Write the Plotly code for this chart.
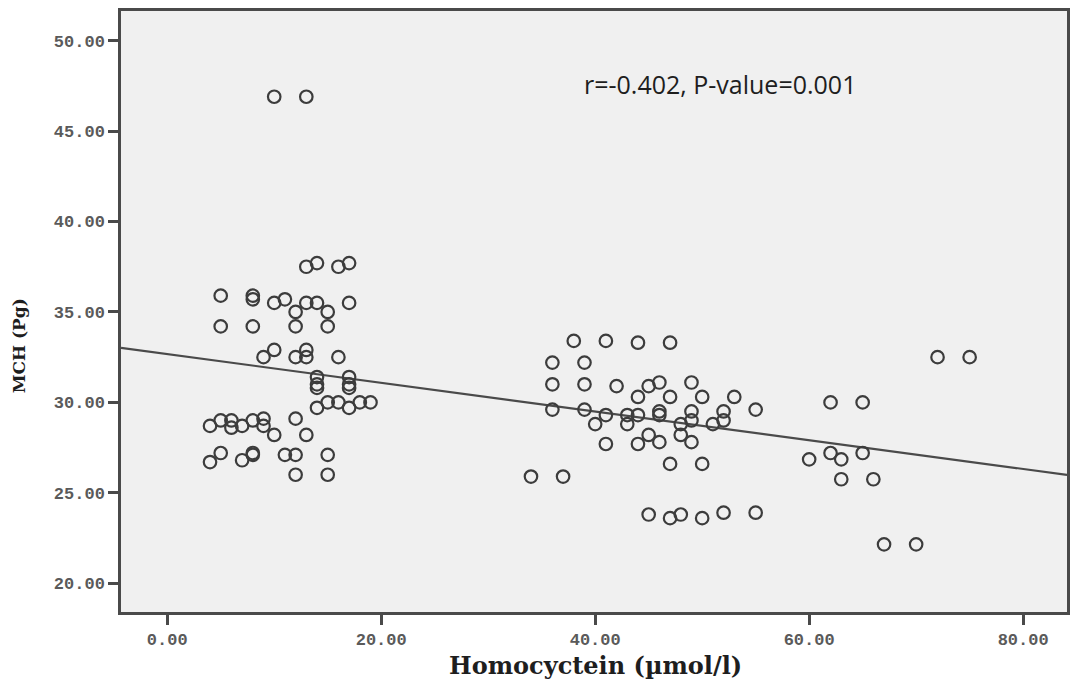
import plotly.graph_objects as go

# Homocyctein (x) values, µmol/l
homocyctein = [
    # left cluster
    10, 13,
    13, 14, 16, 17,
    5, 8, 8, 10, 11, 13, 14, 17, 12, 15,
    5, 8, 12, 15,
    10, 9, 12, 13, 13, 16,
    14, 14, 14, 17, 17, 17,
    14, 15, 16, 17, 18, 19,
    4, 5, 6, 6, 7, 8, 9, 9, 10, 12, 13,
    4, 5, 7, 8, 8, 11, 12, 15, 12, 15,
    # middle cluster
    38, 41, 44, 47,
    36, 39,
    36, 39, 42, 45, 46, 49,
    44, 47, 50, 53,
    36, 39, 55,
    41, 43, 44, 46, 46, 49, 52,
    40, 43, 48, 49, 51, 52,
    45, 48, 41, 44, 46, 49,
    47, 50,
    34, 37,
    45, 47, 48, 50, 52, 55,
    # right cluster
    72, 75,
    62, 65,
    60, 62, 63, 65,
    63, 66,
    67, 70,
]

# MCH (y) values, pg
mch = [
    46.9, 46.9,
    37.5, 37.7, 37.5, 37.7,
    35.9, 35.9, 35.7, 35.5, 35.7, 35.5, 35.5, 35.5, 35.0, 35.0,
    34.2, 34.2, 34.2, 34.2,
    32.9, 32.5, 32.5, 32.9, 32.5, 32.5,
    31.4, 31.0, 30.8, 31.4, 31.0, 30.8,
    29.7, 30.0, 30.0, 29.7, 30.0, 30.0,
    28.7, 29.0, 29.0, 28.6, 28.7, 29.0, 29.1, 28.7, 28.2, 29.1, 28.2,
    26.7, 27.2, 26.8, 27.1, 27.2, 27.1, 27.1, 27.1, 26.0, 26.0,
    33.4, 33.4, 33.3, 33.3,
    32.2, 32.2,
    31.0, 31.0, 30.9, 30.9, 31.1, 31.1,
    30.3, 30.3, 30.3, 30.3,
    29.6, 29.6, 29.6,
    29.3, 29.3, 29.3, 29.5, 29.3, 29.5, 29.5,
    28.8, 28.8, 28.8, 29.0, 28.8, 29.0,
    28.2, 28.2, 27.7, 27.7, 27.8, 27.8,
    26.6, 26.6,
    25.9, 25.9,
    23.8, 23.6, 23.8, 23.6, 23.9, 23.9,
    32.5, 32.5,
    30.0, 30.0,
    26.85, 27.2, 26.85, 27.2,
    25.75, 25.75,
    22.15, 22.15,
]

# Fit line
fit_intercept = 32.67
fit_slope = -0.0794

x_ticks = [0, 20, 40, 60, 80]
y_ticks = [20, 25, 30, 35, 40, 45, 50]
annotation_text = "r=-0.402, P-value=0.001"
x_title = "Homocyctein (µmol/l)"
y_title = "MCH (Pg)"

x_range = [-4.32, 84.1]
y_range = [18.41, 51.64]

W, H = 1077, 684
ML, MR, MT, MB = 121, 7, 11, 72
PW, PH = W - ML - MR, H - MT - MB


def px_to_paper(px, py):
    return (px - ML) / PW, (H - MB - py) / PH


fig = go.Figure()
fig.add_trace(go.Scatter(
    x=x_range,
    y=[fit_intercept + fit_slope * v for v in x_range],
    mode="lines",
    line=dict(color="#4a4a4a", width=2.2),
    hoverinfo="skip",
    showlegend=False,
))
fig.add_trace(go.Scatter(
    x=homocyctein, y=mch, mode="markers",
    marker=dict(symbol="circle-open", size=12.5, color="#3c3c3c",
                line=dict(width=2.2, color="#3c3c3c")),
    showlegend=False,
))

tick_font = dict(family="Liberation Mono", size=17, color="#5a5a5a", weight="bold")
axis_common = dict(
    showgrid=False, zeroline=False,
    showline=True, linecolor="#4a4a4a", linewidth=2.5, mirror=True,
    ticks="outside", ticklen=10, tickwidth=2.5, tickcolor="#4a4a4a",
    tickfont=tick_font,
)

ax, ay = px_to_paper(722, 84)
xt_x, xt_y = px_to_paper(597, 665)
yt_x, yt_y = px_to_paper(19, 346)

fig.update_layout(
    width=W, height=H,
    paper_bgcolor="white", plot_bgcolor="#f0f0f0",
    margin=dict(l=ML, r=MR, t=MT, b=MB),
    xaxis=dict(range=x_range, tickvals=x_ticks,
               ticktext=[f"{v:.2f}" for v in x_ticks], **axis_common),
    yaxis=dict(range=y_range, tickvals=y_ticks,
               ticktext=[f"{v:.2f}" for v in y_ticks], **axis_common),
    annotations=[
        dict(text=annotation_text, x=ax, y=ay, xref="paper", yref="paper",
             xanchor="center", yanchor="middle", showarrow=False,
             font=dict(family="Open Sans", size=25, color="#1e1e1e")),
        dict(text=f"<b>{x_title}</b>", x=xt_x, y=xt_y, xref="paper", yref="paper",
             xanchor="center", yanchor="middle", showarrow=False,
             font=dict(family="DejaVu Serif", size=24, color="#1e1e1e")),
        dict(text=f"<b>{y_title}</b>", x=yt_x, y=yt_y, xref="paper", yref="paper",
             xanchor="center", yanchor="middle", showarrow=False, textangle=-90,
             font=dict(family="DejaVu Serif", size=17, color="#1e1e1e")),
    ],
)

fig.write_html("out.html")
